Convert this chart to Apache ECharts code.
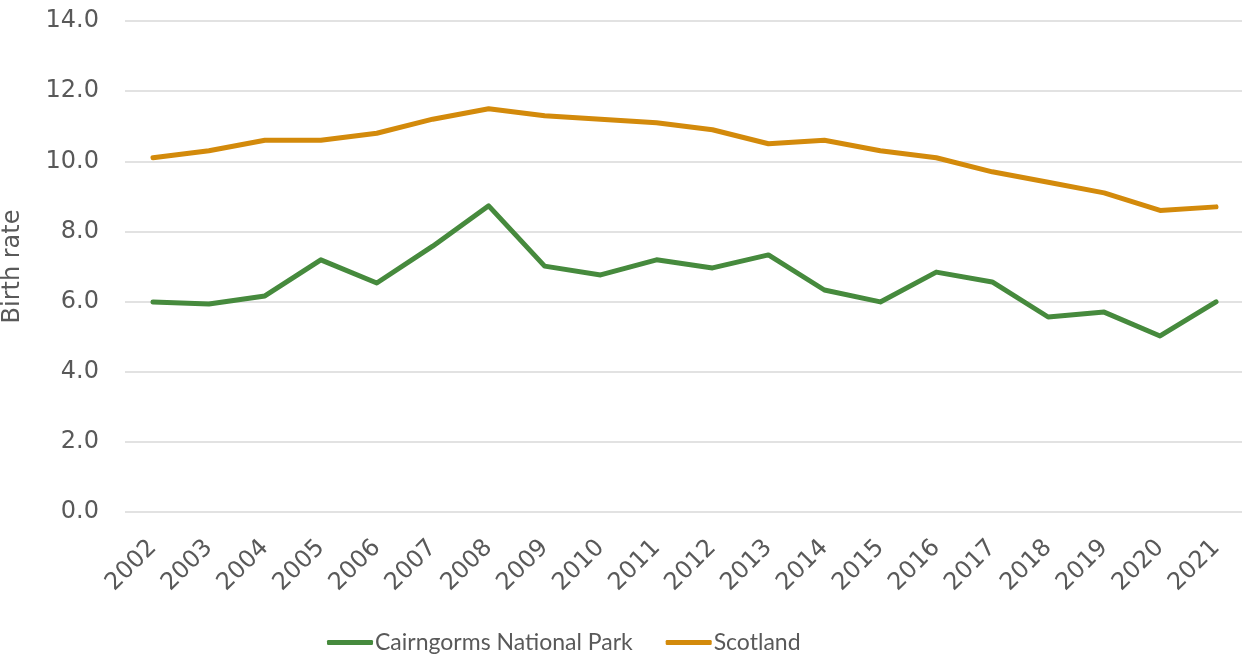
<!DOCTYPE html>
<html>
<head>
<meta charset="utf-8">
<script src="https://cdn.jsdelivr.net/npm/echarts@6/dist/echarts.min.js"></script>
<style>
  html, body { margin: 0; padding: 0; background: #fff; }
  #chart { width: 1242px; height: 657px; }
</style>
</head>
<body>
<div id="chart"></div>
<script>
// Birth rate per 1,000 population
const years = ['2002','2003','2004','2005','2006','2007','2008','2009','2010','2011',
               '2012','2013','2014','2015','2016','2017','2018','2019','2020','2021'];
const cairngorms = [5.99, 5.93, 6.16, 7.19, 6.53, 7.58, 8.73, 7.01, 6.76, 7.19,
                    6.96, 7.33, 6.33, 5.99, 6.84, 6.56, 5.56, 5.70, 5.02, 5.99];
const scotland = [10.1, 10.3, 10.6, 10.6, 10.8, 11.2, 11.5, 11.3, 11.2, 11.1,
                  10.9, 10.5, 10.6, 10.3, 10.1, 9.7, 9.4, 9.1, 8.6, 8.7];

const FONT = 'DejaVu Sans';
const LEGEND_FONT = 'Lato';
const TEXT = '#595959';

const chart = echarts.init(document.getElementById('chart'));
chart.setOption({
  animation: false,
  textStyle: { fontFamily: FONT },
  grid: {
    left: 125, top: 21, width: 1119, height: 491,
    containLabel: false, outerBoundsMode: 'none'
  },
  legend: {
    top: 626,
    left: 322,
    itemWidth: 46,
    itemHeight: 5,
    itemGap: 33,
    icon: 'roundRect',
    textStyle: { fontFamily: LEGEND_FONT, fontSize: 23, color: TEXT, padding: [0, 0, 0, -3] },
    data: ['Cairngorms National Park', 'Scotland']
  },
  xAxis: {
    type: 'category',
    data: years,
    boundaryGap: true,
    axisLine: { show: false },
    axisTick: { show: false },
    axisLabel: { rotate: 45, fontFamily: FONT, fontSize: 24, color: TEXT, margin: 32 }
  },
  yAxis: {
    type: 'value',
    min: 0,
    max: 14,
    interval: 2,
    name: 'Birth rate',
    nameLocation: 'middle',
    nameGap: 100,
    nameTextStyle: { fontFamily: FONT, fontSize: 24, color: TEXT },
    axisLine: { show: false },
    axisTick: { show: false },
    axisLabel: {
      fontFamily: FONT, fontSize: 24, color: TEXT, margin: 26,
      formatter: v => v.toFixed(1)
    },
    splitLine: { lineStyle: { color: '#D9D9D9', width: 1.5 } }
  },
  series: [
    {
      name: 'Cairngorms National Park',
      type: 'line',
      data: cairngorms,
      symbol: 'none',
      lineStyle: { color: '#468A3D', width: 5, cap: 'round', join: 'round' },
      itemStyle: { color: '#468A3D' }
    },
    {
      name: 'Scotland',
      type: 'line',
      data: scotland,
      symbol: 'none',
      lineStyle: { color: '#D38A0B', width: 5, cap: 'round', join: 'round' },
      itemStyle: { color: '#D38A0B' }
    }
  ]
});
</script>
</body>
</html>
